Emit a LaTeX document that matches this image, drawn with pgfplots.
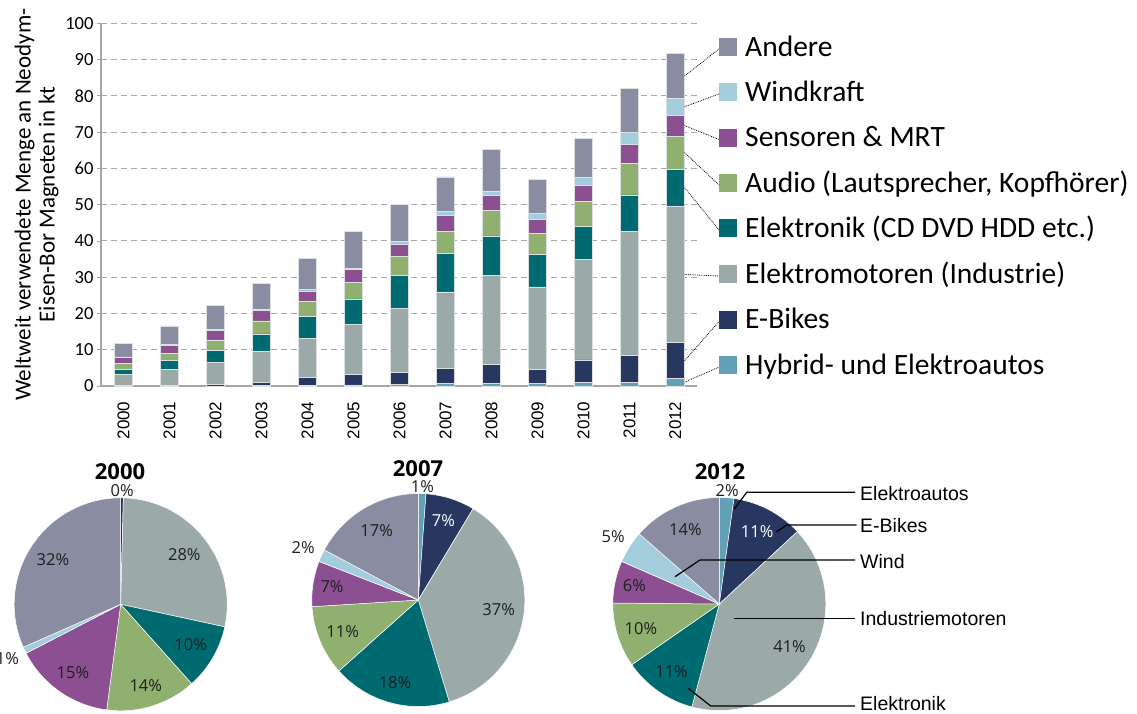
\documentclass[border=0pt]{standalone}
\usepackage{fontspec}
\setmainfont{Carlito}
\newfontfamily\arialf{Liberation Sans}
\newfontfamily\piefont{Open Sans}
\usepackage{pgfplots}
\usepackage{pgfplotstable}
\pgfplotsset{compat=1.18}

\definecolor{chyb}{HTML}{62A1B5}
\definecolor{cebk}{HTML}{283760}
\definecolor{cmot}{HTML}{9BAAA9}
\definecolor{cele}{HTML}{006A71}
\definecolor{caud}{HTML}{8FB06E}
\definecolor{csen}{HTML}{8C4F91}
\definecolor{cwin}{HTML}{A3CDDC}
\definecolor{cand}{HTML}{8A8DA1}
\colorlet{pc0}{chyb}\colorlet{pc1}{cebk}\colorlet{pc2}{cmot}\colorlet{pc3}{cele}
\colorlet{pc4}{caud}\colorlet{pc5}{csen}\colorlet{pc6}{cwin}\colorlet{pc7}{cand}
\definecolor{barline}{HTML}{DDE0E3}
\definecolor{gridc}{HTML}{A8A8A8}
\definecolor{axc}{HTML}{A6A6A6}

% kt per year, bottom to top
\pgfplotstableread{
x  hyb  ebk  mot  ele  aud  sen  win  and
0  0    0.05 3.2  1.3  1.7  1.65 0.1  3.8
1  0    0.05 4.5  2.4  2.1  2.1  0.4  5.0
2  0    0.37 6.15 3.4  2.8  2.55 0.35 6.5
3  0.05 1.0  8.4  4.9  3.6  2.8  0.4  7.2
4  0.1  2.3  10.7 6.2  4.1  2.8  0.45 8.55
5  0.3  3.0  13.6 7.1  4.6  3.5  0.35 10.1
6  0.37 3.4  17.7 9.1  5.2  3.4  0.8  10.2
7  0.74 4.0  21.2 10.6 6.0  4.4  1.1  9.6
8  0.8  5.1  24.5 11.0 6.9  4.2  1.3  11.4
9  0.8  3.7  22.8 8.9  5.9  3.8  1.7  9.3
10 1.1  6.1  27.7 9.2  6.9  4.4  2.2  10.7
11 1.1  7.4  34.2 10.0 8.7  5.1  3.4  12.2
12 2.1  9.8  37.7 10.2 9.1  5.8  4.6  12.4
}\bars

% pie shares in %, label radius (x R), white label
\pgfplotstableread{
share rl   tc
0     1.07 0
0.4   1.07 0
28    0.76 0
10    0.76 0
13.7  0.80 0
15.3  0.78 0
1.0   1.18 0
31.6  0.76 0
}\pieA
\pgfplotstableread{
share rl   tc
1.15  1.07 0
7.45  0.78 1
36.7  0.76 0
18.1  0.81 0
10.6  0.77 0
6.9   0.82 0
1.9   1.19 0
17.2  0.76 0
}\pieB
\pgfplotstableread{
share rl   tc
2.2   1.07 0
10.9  0.77 1
41.05 0.77 0
11.2  0.78 0
9.8   0.77 0
6.4   0.815 0
4.9   1.18 0
13.55 0.77 0
}\pieC

\def\R{106.5}
\newcommand\pielab{\piefont\fontsize{16.5}{19}\selectfont}
\newcommand\drawpie[1]{%
  \pgfplotstablegetrowsof{#1}%
  \pgfmathtruncatemacro{\last}{\pgfplotsretval-1}%
  \def\cum{0}%
  \pgfplotsforeachungrouped \i in {0,...,\last}{%
    \pgfplotstablegetelem{\i}{share}\of{#1}\let\sh=\pgfplotsretval
    \pgfplotstablegetelem{\i}{rl}\of{#1}\let\rl=\pgfplotsretval
    \pgfplotstablegetelem{\i}{tc}\of{#1}\let\tc=\pgfplotsretval
    \pgfmathsetmacro{\a}{90-3.6*\cum}%
    \pgfmathsetmacro{\cum}{\cum+\sh}%
    \pgfmathsetmacro{\b}{90-3.6*\cum}%
    \pgfmathsetmacro{\m}{(\a+\b)/2}%
    \pgfmathsetmacro{\rr}{\rl*\R}%
    \ifdim\sh pt>0pt
      \edef\tmp{%
        \noexpand\fill[pc\i, draw=white, line width=0.5pt] (axis cs:0,0) -- ++(\a:\R pt)
          arc[start angle=\a, end angle=\b, radius=\R pt] -- cycle;
        \noexpand\node[font=\noexpand\pielab, inner sep=0pt,
          text=\ifnum\tc=1 white\else black!88\fi]
          at ([shift={(\m:\rr pt)}]axis cs:0,0)
          {\noexpand\pgfmathprintnumber[fixed,precision=0]{\sh}\noexpand\%};}%
      \tmp
    \fi
  }%
}

\begin{document}
\begin{tikzpicture}
\pgfplotsset{/pgf/number format/assume math mode=true}

\begin{axis}[
  at={(101pt,-386pt)}, anchor=south west,
  scale only axis, width=596pt, height=362.7pt,
  ybar stacked, bar width=18.3pt,
  xmin=-0.49, xmax=12.47, ymin=0, ymax=100,
  xtick={0,...,12},
  xticklabels={2000,2001,2002,2003,2004,2005,2006,2007,2008,2009,2010,2011,2012},
  xticklabel style={rotate=90, anchor=east, font=\arialf\fontsize{17}{20}\selectfont},
  xticklabel shift=8pt,
  ytick={0,10,...,100},
  yticklabel style={font=\fontsize{18.5}{20}\selectfont},
  axis x line*=bottom, axis y line*=left,
  axis line style={draw=axc, line width=1.2pt, -},
  xtick style={draw=none},
  ytick style={draw=axc, line width=0.8pt},
  tick align=outside, major tick length=4pt,
  ymajorgrids, grid style={draw=gridc, line width=1.1pt, dash pattern=on 6pt off 4pt},
  ylabel={Weltweit verwendete Menge an Neodym-\\Eisen-Bor Magneten in kt},
  ylabel style={align=center, font=\fontsize{23}{24}\selectfont},
  clip=false,
  every axis plot/.append style={draw=barline, line width=0.7pt},
]
\addplot[fill=chyb] table[x=x,y=hyb]{\bars};
\addplot[fill=cebk] table[x=x,y=ebk]{\bars};
\addplot[fill=cmot] table[x=x,y=mot]{\bars};
\addplot[fill=cele] table[x=x,y=ele]{\bars};
\addplot[fill=caud] table[x=x,y=aud]{\bars};
\addplot[fill=csen] table[x=x,y=sen]{\bars};
\addplot[fill=cwin] table[x=x,y=win]{\bars};
\addplot[fill=cand] table[x=x,y=and]{\bars};
\coordinate (l1) at (axis cs:12.2,1.05);
\coordinate (l2) at (axis cs:12.2,7.0);
\coordinate (l3) at (axis cs:12.2,30.75);
\coordinate (l4) at (axis cs:12.2,54.7);
\coordinate (l5) at (axis cs:12.2,64.35);
\coordinate (l6) at (axis cs:12.2,71.8);
\coordinate (l7) at (axis cs:12.2,77.0);
\coordinate (l8) at (axis cs:12.2,85.5);
\end{axis}

\begin{axis}[at={(120.7pt,-604.3pt)}, anchor=center, scale only axis,
  width=213pt, height=213pt, xmin=-1, xmax=1, ymin=-1, ymax=1,
  hide axis, clip=false]
\drawpie{\pieA}
\end{axis}
\begin{axis}[at={(418.3pt,-600pt)}, anchor=center, scale only axis,
  width=213pt, height=213pt, xmin=-1, xmax=1, ymin=-1, ymax=1,
  hide axis, clip=false]
\drawpie{\pieB}
\end{axis}
\begin{axis}[at={(719.3pt,-604pt)}, anchor=center, scale only axis,
  width=213pt, height=213pt, xmin=-1, xmax=1, ymin=-1, ymax=1,
  hide axis, clip=false]
\drawpie{\pieC}
\end{axis}

\begin{scope}[x=1pt,y=-1pt]
% legend with leader lines
\foreach \c/\yc/\t/\l in {cand/47/Andere/l8, cwin/92/Windkraft/l7,
    csen/137.5/Sensoren \& MRT/l6, caud/183/Audio (Lautsprecher{,} Kopfhörer)/l5,
    cele/228/Elektronik (CD DVD HDD etc.)/l4, cmot/274/Elektromotoren (Industrie)/l3,
    cebk/319.5/E-Bikes/l2, chyb/365/Hybrid- und Elektroautos/l1}{
  \fill[\c] (719,\yc-9) rectangle (737,\yc+9);
  \node[anchor=base west, inner sep=0pt, font=\fontsize{29.5}{30}\selectfont]
    at (745,\yc+9.3) {\t};
  \draw[densely dotted, line width=0.8pt] (\l) -- (719,\yc+2);
}
% pie titles
\node[anchor=base, inner sep=0pt, font=\piefont\bfseries\fontsize{22}{24}\selectfont] at (120,479) {2000};
\node[anchor=base, inner sep=0pt, font=\piefont\bfseries\fontsize{22}{24}\selectfont] at (418,476) {2007};
\node[anchor=base, inner sep=0pt, font=\piefont\bfseries\fontsize{22}{24}\selectfont] at (720,479) {2012};
% callouts
\draw[line width=1.2pt] (734.3,509) -- (746.7,492.3) -- (855,492.3);
\draw[line width=1.2pt] (776.7,531.7) -- (786.7,525) -- (856.7,525);
\draw[line width=1.2pt] (675,576.7) -- (700,560) -- (855,560);
\draw[line width=1.2pt] (734.3,618.3) -- (855,618.3);
\draw[line width=1.2pt] (688.3,688.3) -- (710.7,706) -- (855,706);
\foreach \yb/\t in {500/Elektroautos, 532/E-Bikes, 568/Wind, 625/Industriemotoren, 710/Elektronik}
  \node[anchor=base west, inner sep=0pt, font=\arialf\fontsize{19.5}{21}\selectfont] at (860,\yb) {\t};
% page = reference canvas
\pgfresetboundingbox
\path[use as bounding box] (0,0) rectangle (1137,713);
\end{scope}
\end{tikzpicture}
\end{document}
